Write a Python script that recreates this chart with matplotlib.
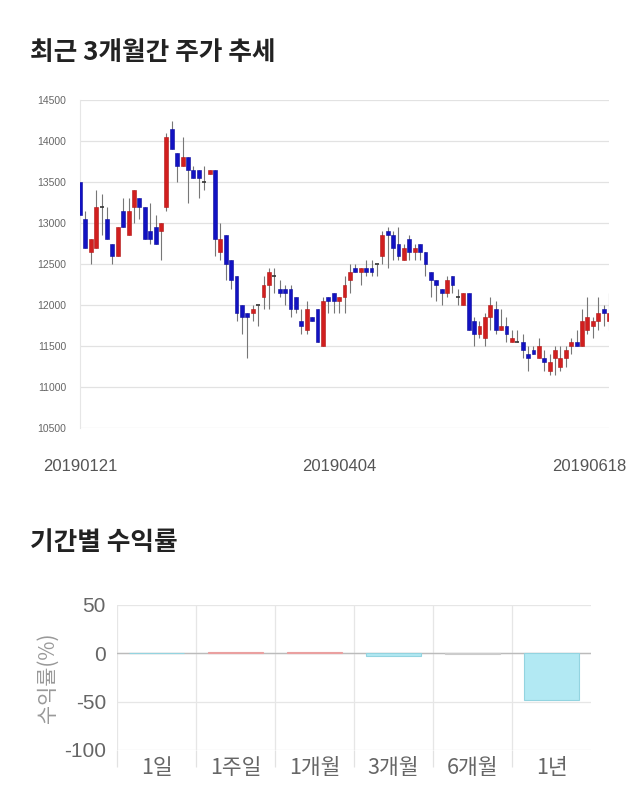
import matplotlib
matplotlib.use('Agg')
import matplotlib.pyplot as plt
import matplotlib.transforms as mtransforms
import numpy as np

plt.rcParams['font.family'] = ['Liberation Sans', 'Noto Sans CJK KR', 'DejaVu Sans']

# daily candles, 2019-01-21 .. 2019-06-18
opens = [13500, 13050, 12650, 12700, 13200, 13050, 12750, 12600, 13150, 12850,
         13200, 13300, 13200, 12900, 12950, 12900, 13200, 14150, 13850, 13700,
         13800, 13650, 13650, 13500, 13600, 13650, 12650, 12850, 12550, 12350,
         12000, 11900, 11900, 12000, 12100, 12250, 12350, 12200, 12200, 12200,
         12100, 11800, 11700, 11850, 11950, 11500, 12100, 12150, 12050, 12100,
         12300, 12450, 12400, 12450, 12450, 12500, 12600, 12900, 12850, 12750,
         12550, 12800, 12650, 12750, 12650, 12400, 12300, 12200, 12150, 12350,
         12100, 12000, 12150, 11800, 11650, 11600, 11850, 11950, 11700, 11750,
         11550, 11550, 11550, 11400, 11450, 11350, 11350, 11200, 11350, 11250,
         11350, 11500, 11550, 11500, 11700, 11750, 11800, 11950, 11800]
closes = [13100, 12700, 12800, 13200, 13200, 12800, 12600, 12950, 12950, 13150,
          13400, 13200, 12800, 12800, 12750, 13000, 14050, 13900, 13700, 13800,
          13650, 13550, 13550, 13500, 13650, 12800, 12800, 12500, 12300, 11900,
          11850, 11850, 11950, 12000, 12250, 12400, 12350, 12150, 12150, 11950,
          11950, 11750, 11950, 11800, 11550, 12050, 12050, 12050, 12100, 12250,
          12400, 12400, 12450, 12400, 12400, 12500, 12850, 12850, 12700, 12600,
          12700, 12650, 12700, 12650, 12500, 12300, 12250, 12150, 12300, 12250,
          12100, 12150, 11700, 11650, 11750, 11850, 12000, 11700, 11750, 11650,
          11600, 11550, 11450, 11350, 11400, 11500, 11300, 11300, 11450, 11350,
          11450, 11550, 11500, 11800, 11850, 11800, 11900, 11900, 11900]
highs = [13500, 13150, 12800, 13400, 13350, 13200, 12750, 12950, 13300, 13300,
         13400, 13300, 13200, 13250, 13100, 13000, 14100, 14250, 13850, 14050,
         13800, 13700, 13650, 13700, 13650, 13650, 13000, 12850, 12550, 12350,
         12000, 11900, 12000, 12000, 12350, 12450, 12450, 12300, 12250, 12250,
         12100, 11950, 12050, 11850, 11950, 12100, 12100, 12150, 12100, 12350,
         12500, 12500, 12450, 12550, 12550, 12500, 12900, 12950, 12900, 12950,
         12750, 12850, 12750, 12750, 12650, 12400, 12300, 12200, 12350, 12350,
         12200, 12150, 12150, 11850, 11800, 11900, 12100, 12050, 11950, 11850,
         11700, 11700, 11650, 11500, 11500, 11600, 11450, 11400, 11500, 11500,
         11500, 11600, 11700, 11950, 12100, 11850, 12100, 12000, 12150]
lows = [13100, 12700, 12500, 12700, 12850, 12800, 12500, 12600, 12950, 12850,
        13000, 13050, 12800, 12750, 12750, 12550, 13150, 13900, 13500, 13700,
        13250, 13550, 13300, 13400, 13600, 12600, 12550, 12300, 12200, 11800,
        11650, 11350, 11800, 11750, 11950, 11950, 12150, 12100, 12000, 11850,
        11900, 11650, 11650, 11800, 11550, 11500, 11900, 11900, 11900, 11900,
        12150, 12400, 12250, 12350, 12350, 12350, 12500, 12450, 12550, 12550,
        12550, 12550, 12550, 12550, 12350, 12100, 12050, 12000, 12100, 12150,
        12000, 12000, 11700, 11500, 11600, 11500, 11700, 11650, 11700, 11550,
        11550, 11550, 11350, 11200, 11400, 11350, 11200, 11150, 11150, 11200,
        11250, 11400, 11500, 11500, 11650, 11600, 11700, 11750, 11700]
date_ticks = [0, 48, 98]
date_labels = ['20190121', '20190404', '20190618']

periods = ['1일', '1주일', '1개월', '3개월', '6개월', '1년']
returns = [0.0, 1.0, 1.0, -2.5, -0.2, -48.5]

fig = plt.figure(figsize=(6.4, 8.1), dpi=100)

# --- candle chart ---
ax = fig.add_axes([0.125, 0.4716, 0.8266, 0.4049])
o = np.array(opens)
c = np.array(closes)
x = np.arange(len(o))
ax.vlines(x, lows, highs, color='#777777', linewidth=0.8, zorder=2)
up = c > o
dn = c < o
eq = c == o
ax.bar(x[up], (c - o)[up], bottom=o[up], width=0.72, color='#d11f1f',
       edgecolor='#b01515', linewidth=0.4, zorder=3)
ax.bar(x[dn], (c - o)[dn], bottom=o[dn], width=0.72, color='#1212c2',
       edgecolor='#0a0a9a', linewidth=0.4, zorder=3)
ax.hlines(o[eq], x[eq] - 0.36, x[eq] + 0.36, color='#333333', linewidth=1.2, zorder=3)

ax.set_xlim(0, 98)
ax.set_ylim(10500, 14500)
ticks = range(10500, 15000, 500)
ax.set_yticks(ticks)
ax.set_yticklabels([str(t) for t in ticks], fontsize=7.5, color='#666666')
ax.grid(axis='y', color='#e2e2e2', linewidth=0.9)
ax.set_axisbelow(True)
for s in ['top', 'right', 'bottom']:
    ax.spines[s].set_visible(False)
ax.spines['left'].set_color('#e6e6e6')
ax.tick_params(axis='y', length=0, pad=10)
ax.tick_params(axis='x', length=0, pad=22)
ax.set_xticks(date_ticks)
ax.set_xticklabels(date_labels, fontsize=12, color='#555555')
last = ax.get_xticklabels()[-1]
last.set_transform(last.get_transform() +
                   mtransforms.ScaledTranslation(-0.2, 0, fig.dpi_scale_trans))

fig.text(0.047, 1 - 52 / 810, '최근 3개월간 주가 추세', fontsize=18.5, fontweight='bold',
         color='#222222', va='center', family=['Noto Sans CJK KR', 'DejaVu Sans'])
fig.text(0.047, 1 - 543 / 810, '기간별 수익률', fontsize=18.5, fontweight='bold',
         color='#222222', va='center', family=['Noto Sans CJK KR', 'DejaVu Sans'])

# --- returns chart ---
ax2 = fig.add_axes([0.1828, 0.0741, 0.7406, 0.179])
r = np.array(returns)
bar_colors = ['#f6c4c4' if v > 0 else '#b2e9f3' for v in r]
edge_colors = ['#eaa0a0' if v > 0 else '#93d4e0' for v in r]
bar_colors[4] = '#d8d8d8'
edge_colors[4] = '#cccccc'
ax2.bar(np.arange(len(r)), r, width=0.69, color=bar_colors,
        edgecolor=edge_colors, linewidth=0.8, zorder=3)
ax2.axhline(0, color='#bbbbbb', linewidth=1.0, zorder=2)
ax2.set_xlim(-0.5, 5.5)
ax2.set_ylim(-100, 50)
ax2.set_yticks([50, 0, -50, -100])
ax2.set_yticklabels(['50', '0', '-50', '-100'], fontsize=15, color='#666666')
ax2.set_xticks(np.arange(len(periods)))
ax2.set_xticklabels(periods, fontsize=15.5, color='#666666',
                    family=['Noto Sans CJK KR', 'DejaVu Sans'])
ax2.set_xticks(np.arange(-0.5, 5.0, 1.0), minor=True)
ax2.tick_params(axis='x', which='major', length=0, pad=5)
ax2.tick_params(axis='x', which='minor', length=12, color='#e2e2e2', width=0.9)
ax2.tick_params(axis='y', length=0, pad=8)
ax2.grid(axis='y', color='#e6e6e6', linewidth=0.9)
ax2.grid(axis='x', which='minor', color='#e6e6e6', linewidth=0.9)
ax2.set_axisbelow(True)
for s in ['top', 'right', 'left', 'bottom']:
    ax2.spines[s].set_visible(False)
ax2.set_ylabel('수익률(%)', fontsize=15, color='#999999', labelpad=4,
               family=['Noto Sans CJK KR', 'DejaVu Sans'])

fig.savefig('out.png', dpi=100)
